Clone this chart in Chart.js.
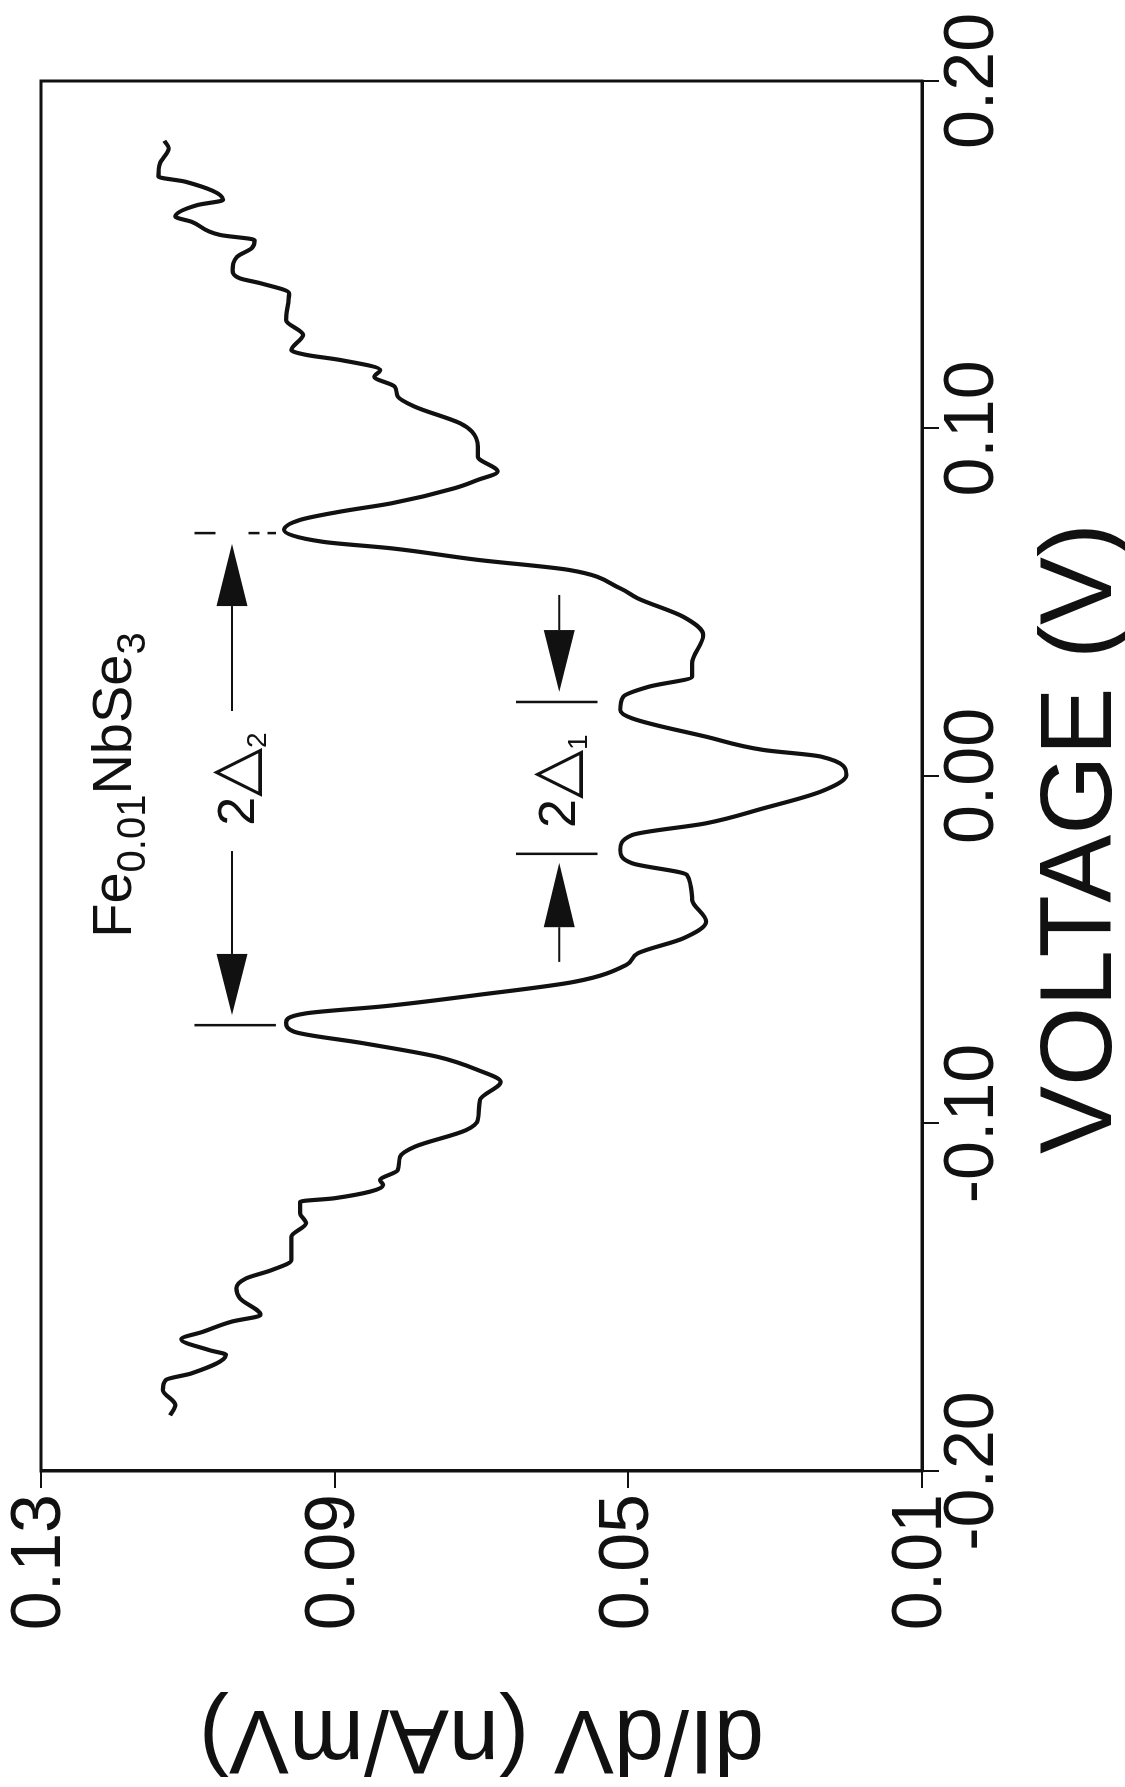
<!DOCTYPE html>
<html>
<head>
<meta charset="utf-8">
<script src="https://cdn.jsdelivr.net/npm/chart.js@4.4.1/dist/chart.umd.min.js"></script>
<style>
  html, body { margin: 0; padding: 0; background: #fff; overflow: hidden; }
  body { width: 1125px; height: 1787px; position: relative; }
  /* the figure is printed turned a quarter turn counter-clockwise */
  #wrap { position: absolute; left: 0; top: 0; width: 1787px; height: 1125px;
          transform-origin: 0 0; transform: translate(0px, 1787px) rotate(-90deg); }
</style>
</head>
<body>
<div id="wrap"><canvas id="myChart" width="1787" height="1125"></canvas></div>
<script>
// bias voltage (V) and tunnelling conductance dI/dV (nA/mV)
const voltage = [
  -0.184, -0.181, -0.1767, -0.1738, -0.1719, -0.1666, -0.1652, -0.1621, -0.1599, -0.157,
  -0.1551, -0.1503, -0.1474, -0.1446, -0.1422, -0.1393, -0.1326, -0.1287, -0.1258, -0.1225,
  -0.1215, -0.1177, -0.1163, -0.1134, -0.1096, -0.1067, -0.1019, -0.099, -0.0932, -0.088,
  -0.0846, -0.0808, -0.0769, -0.0736, -0.071, -0.0683, -0.0662, -0.063, -0.0592, -0.0544,
  -0.051, -0.0467, -0.0419, -0.0357, -0.0285, -0.0251, -0.0213, -0.017, -0.0136, -0.0093,
  -0.0045, 0.0003, 0.0056, 0.0075, 0.0113, 0.0166, 0.019, 0.0228, 0.0257, 0.0286,
  0.0324, 0.0406, 0.0458, 0.0511, 0.054, 0.0593, 0.0622, 0.0655, 0.0674, 0.0708,
  0.0737, 0.0761, 0.0785, 0.0828, 0.0852, 0.0876, 0.0919, 0.0948, 0.0991, 0.1015,
  0.1063, 0.1092, 0.112, 0.1149, 0.1168, 0.1197, 0.1212, 0.1226, 0.1269, 0.1312,
  0.1389, 0.1418, 0.1432, 0.1456, 0.1494, 0.1519, 0.1542, 0.1557, 0.1595, 0.161,
  0.1643, 0.1658, 0.171, 0.1725, 0.1763, 0.1806, 0.1828
];
const dIdV = [
  0.1124, 0.1117, 0.1134, 0.113, 0.1095, 0.1048, 0.1071, 0.1109, 0.1079, 0.104,
  0.1001, 0.1029, 0.1034, 0.1021, 0.0986, 0.0959, 0.0959, 0.0939, 0.0947, 0.0947,
  0.09, 0.0834, 0.0838, 0.0814, 0.0811, 0.0791, 0.0721, 0.0705, 0.0702, 0.0674,
  0.0705, 0.076, 0.0861, 0.0955, 0.0966, 0.0939, 0.083, 0.0705, 0.0573, 0.0503,
  0.0487, 0.0425, 0.0394, 0.0413, 0.042, 0.0495, 0.0511, 0.0495, 0.0394, 0.0316,
  0.0238, 0.0203, 0.0238, 0.0316, 0.0394, 0.0495, 0.0511, 0.0507, 0.0472, 0.0413,
  0.0413, 0.0398, 0.0425, 0.0487, 0.0511, 0.0581, 0.0705, 0.0822, 0.0916, 0.0969,
  0.0947, 0.0892, 0.0822, 0.0737, 0.0705, 0.0678, 0.0705, 0.0705, 0.0713, 0.0729,
  0.0791, 0.0814, 0.0818, 0.0846, 0.0838, 0.0892, 0.0939, 0.0959, 0.0943, 0.0966,
  0.0962, 0.1001, 0.1029, 0.1039, 0.1033, 0.1013, 0.1009, 0.1056, 0.1095, 0.1117,
  0.1087, 0.1052, 0.1103, 0.114, 0.1138, 0.1126, 0.1132
];
const voltageTicks = [-0.2, -0.1, 0.0, 0.1, 0.2];
const dIdVTicks = [0.01, 0.05, 0.09, 0.13];

const ink = "#111";
const family = "'Liberation Sans', Arial, Helvetica, sans-serif";
Chart.defaults.font.family = family;
Chart.defaults.color = ink;

// annotations, placed in data units (voltage, dI/dV)
const gapMarks = [
  { v: 0.0699, from: 0.1091, to: 0.098, dash: [21, 33, 11, 8, 10, 200] },
  { v: -0.0717, from: 0.1091, to: 0.098, dash: [] },
  { v: 0.0213, from: 0.0653, to: 0.0542, dash: [] },
  { v: -0.0224, from: 0.0653, to: 0.0542, dash: [] }
];
const arrows = [
  { g: 0.104, tail: 0.0187, base: 0.0489, tip: 0.0668 },
  { g: 0.104, tail: -0.0216, base: -0.0512, tip: -0.0688 },
  { g: 0.0594, tail: 0.0521, base: 0.042, tip: 0.0242 },
  { g: 0.0594, tail: -0.0535, base: -0.0435, tip: -0.025 }
];
const labels = [
  { v: -0.0026, g: 0.1177, parts: [["Fe", 56, 0], ["0.01", 40, 14], ["NbSe", 56, 0], ["3", 40, 14]] },
  { v: -0.0009, g: 0.101, parts: [["2", 52, 0], ["\u25B3", 64, 0], ["2", 28, 12]] },
  { v: -0.0015, g: 0.0573, parts: [["2", 52, 0], ["\u25B3", 64, 0], ["1", 28, 12]] }
];

const drawRich = (ctx, parts, cx, baseY) => {
  let total = 0;
  const widths = parts.map(([t, size]) => {
    ctx.font = `${size}px ${family}`;
    const w = ctx.measureText(t).width;
    total += w;
    return w;
  });
  let x = cx - total / 2;
  parts.forEach(([t, size, dy], i) => {
    ctx.font = `${size}px ${family}`;
    ctx.fillText(t, x, baseY + dy);
    x += widths[i];
  });
};

const notesPlugin = {
  id: "notes",
  afterDraw(chart) {
    const { ctx, chartArea: a, scales } = chart;
    const xs = scales.x, ys = scales.y;
    ctx.save();
    ctx.strokeStyle = ink;
    ctx.fillStyle = ink;

    // closed frame
    ctx.lineWidth = 3;
    ctx.strokeRect(a.left, a.top, a.right - a.left, a.bottom - a.top);

    // bars marking the gap edges
    ctx.lineWidth = 2.5;
    gapMarks.forEach((m) => {
      const px = xs.getPixelForValue(m.v);
      ctx.setLineDash(m.dash);
      ctx.beginPath();
      ctx.moveTo(px, ys.getPixelForValue(m.from));
      ctx.lineTo(px, ys.getPixelForValue(m.to));
      ctx.stroke();
    });
    ctx.setLineDash([]);

    // arrows
    ctx.lineWidth = 2;
    arrows.forEach((ar) => {
      const py = ys.getPixelForValue(ar.g);
      const pt = xs.getPixelForValue(ar.tail);
      const pb = xs.getPixelForValue(ar.base);
      const pp = xs.getPixelForValue(ar.tip);
      ctx.beginPath();
      ctx.moveTo(pt, py);
      ctx.lineTo(pb, py);
      ctx.stroke();
      ctx.beginPath();
      ctx.moveTo(pb, py - 15.5);
      ctx.lineTo(pp, py);
      ctx.lineTo(pb, py + 15.5);
      ctx.closePath();
      ctx.fill();
    });

    // text labels
    ctx.textAlign = "left";
    ctx.textBaseline = "alphabetic";
    labels.forEach((l) => {
      drawRich(ctx, l.parts, xs.getPixelForValue(l.v), ys.getPixelForValue(l.g));
    });

    // voltage axis title
    ctx.font = `102px ${family}`;
    ctx.textAlign = "center";
    ctx.fillText("VOLTAGE (V)", xs.getPixelForValue(-0.018), a.bottom + 189);
    ctx.restore();
  }
};

const ctx = document.getElementById("myChart");

const data = {
  datasets: [
    {
      label: "Fe0.01NbSe3",
      data: voltage.map((v, i) => ({ x: v, y: dIdV[i] })),
      borderColor: ink,
      borderWidth: 4.2,
      pointRadius: 0,
      cubicInterpolationMode: "monotone",
      fill: false,
    },
  ],
};

const config = {
  type: "line",
  data: data,
  options: {
    responsive: false,
    devicePixelRatio: 1,
    animation: false,
    layout: { padding: { top: 36, right: 81, bottom: 0, left: 0 } },
    plugins: { legend: { display: false }, tooltip: { enabled: false } },
    scales: {
      x: {
        type: "linear",
        min: -0.2,
        max: 0.2,
        afterBuildTicks: (scale) => { scale.ticks = voltageTicks.map((v) => ({ value: v })); },
        afterFit: (scale) => { scale.height = 203; },
        ticks: {
          autoSkip: false,
          maxRotation: 0,
          minRotation: 0,
          padding: 0,
          font: { size: 70, lineHeight: 1 },
          callback: (v) => v.toFixed(2),
        },
        grid: { drawOnChartArea: false, drawTicks: true, tickLength: 17, color: ink, lineWidth: 2 },
        border: { display: true, color: ink, width: 3 },
      },
      y: {
        min: 0.01,
        max: 0.13,
        afterBuildTicks: (scale) => { scale.ticks = dIdVTicks.map((v) => ({ value: v })); },
        afterFit: (scale) => { scale.width = 316; },
        ticks: {
          autoSkip: false,
          padding: 6,
          font: { size: 70, lineHeight: 1 },
          callback: (v) => v.toFixed(2),
        },
        grid: { drawOnChartArea: false, drawTicks: true, tickLength: 17, color: ink, lineWidth: 2 },
        border: { display: true, color: ink, width: 3 },
        title: {
          display: true,
          text: "dI/dV (nA/mV)",
          font: { size: 90, lineHeight: 1 },
          padding: { top: 6, bottom: 0 },
        },
      },
    },
  },
  plugins: [notesPlugin],
};

const myChart = new Chart(ctx, config);
</script>
</body>
</html>
